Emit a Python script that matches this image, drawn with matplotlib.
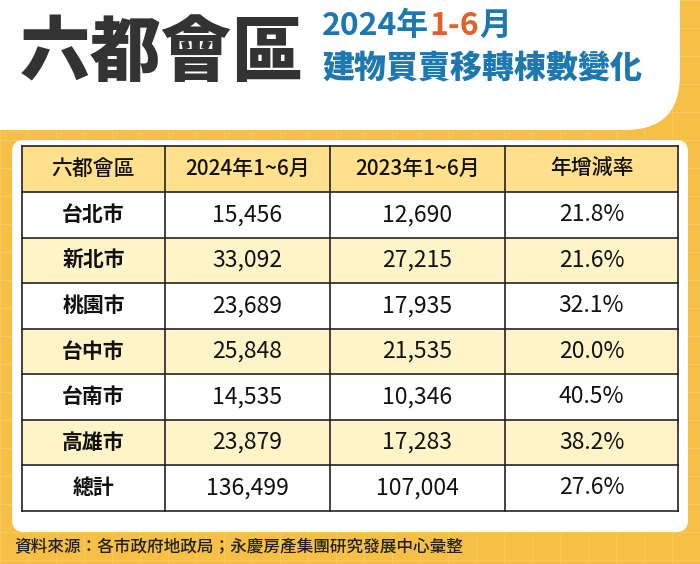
import matplotlib
matplotlib.use("Agg")
import matplotlib.pyplot as plt
from matplotlib.patches import FancyBboxPatch, Rectangle

cities = ["台北市", "新北市", "桃園市", "台中市", "台南市", "高雄市", "總計"]
y2024 = ["15,456", "33,092", "23,689", "25,848", "14,535", "23,879", "136,499"]
y2023 = ["12,690", "27,215", "17,935", "21,535", "10,346", "17,283", "107,004"]
growth = ["21.8%", "21.6%", "32.1%", "20.0%", "40.5%", "38.2%", "27.6%"]
headers = ["六都會區", "2024年1~6月", "2023年1~6月", "年增減率"]

plt.rcParams["font.family"] = ["Noto Sans CJK TC", "Noto Sans CJK JP", "Noto Sans CJK SC", "DejaVu Sans"]

fig = plt.figure(figsize=(7, 5.64), dpi=100)
ax = fig.add_axes([0, 0, 1, 1])
ax.set_xlim(0, 700); ax.set_ylim(564, 0); ax.axis("off")

ax.add_patch(Rectangle((0, 0), 700, 564, color="#F6BF45", zorder=0))
for gx in range(0, 700, 28):
    ax.plot([gx, gx], [0, 564], color="#F9CC62", lw=0.6, zorder=0.5)
for gy in range(0, 564, 28):
    ax.plot([0, 700], [gy, gy], color="#F9CC62", lw=0.6, zorder=0.5)

ax.add_patch(FancyBboxPatch((-60, -60), 740, 190, boxstyle="round,pad=0,rounding_size=55",
                            fc="white", ec="none", zorder=1))
ax.text(20, 54, "六都會區", fontsize=51, fontweight="black", color="#333333", va="center", zorder=2)

renderer = fig.canvas.get_renderer()
x = 322
for part, col in [("2024年", "#1E78B0"), ("1-6", "#E0622A"), ("月", "#1E78B0")]:
    t = ax.text(x, 26, part, fontsize=23, fontweight="bold", color=col, va="center", zorder=2)
    x += t.get_window_extent(renderer).width
ax.text(322, 68, "建物買賣移轉棟數變化", fontsize=23, fontweight="black", color="#1E78B0", va="center", zorder=2)

ax.add_patch(FancyBboxPatch((12, 140), 676, 392, boxstyle="round,pad=0,rounding_size=12",
                            fc="white", ec="none", zorder=1))

xs = [22, 165, 330, 505, 678]
top, hh, rh = 146, 46, 45.5
rows = [headers] + [[c, a, b, g] for c, a, b, g in zip(cities, y2024, y2023, growth)]
for i, row in enumerate(rows):
    y0 = top + (0 if i == 0 else hh + (i - 1) * rh)
    h = hh if i == 0 else rh
    fc = "#FFE08C" if i == 0 else ("#FFF4C8" if i % 2 == 0 else "white")
    ax.add_patch(Rectangle((xs[0], y0), xs[-1] - xs[0], h, fc=fc, ec="none", zorder=2))
    for j, t in enumerate(row):
        cx = (xs[j] + xs[j + 1]) / 2
        if i == 0:
            fs, fw = 15, "medium"
        elif j == 0:
            fs, fw = 15, "bold"
        else:
            fs, fw = 16.5, "normal"
        ax.text(cx, y0 + h / 2, t, fontsize=fs, fontweight=fw,
                color="#111111", ha="center", va="center", zorder=3)
bottom = top + hh + 7 * rh
for i in range(9):
    y = top + (0 if i == 0 else hh + (i - 1) * rh)
    ax.plot([xs[0], xs[-1]], [y, y], color="#222222", lw=1.2, zorder=4)
for x in xs:
    ax.plot([x, x], [top, bottom], color="#222222", lw=1.2, zorder=4)

ax.text(14, 547, "資料來源：各市政府地政局；永慶房產集團研究發展中心彙整", fontsize=12,
        fontweight="medium", color="#222222", va="center", zorder=2)

fig.savefig("out.png", dpi=100)
